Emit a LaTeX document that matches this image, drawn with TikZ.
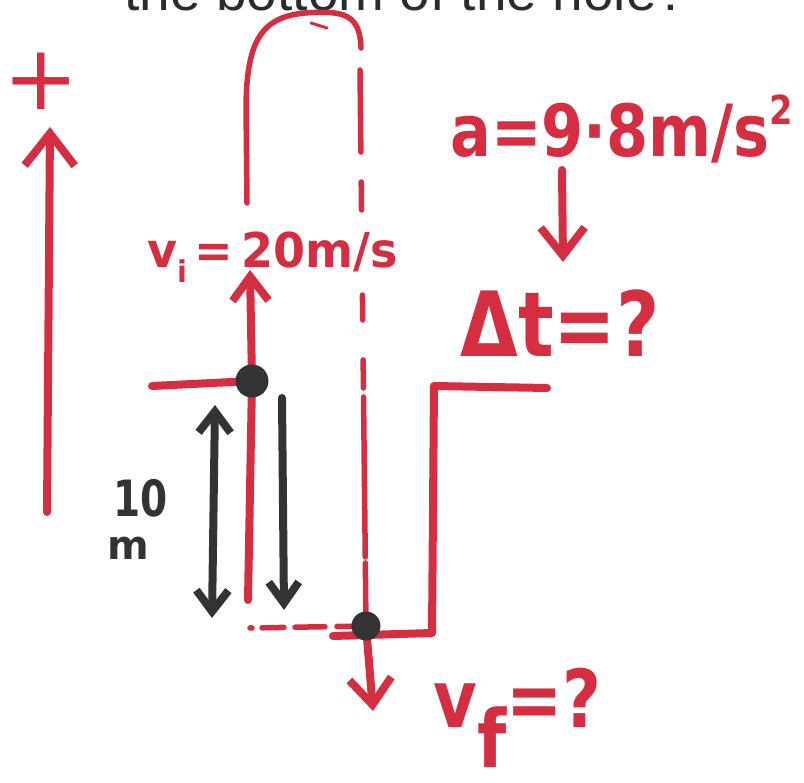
\documentclass[tikz,border=0pt]{standalone}
\usepackage{fontspec}
\usepackage{graphicx}
\setmainfont{DejaVu Sans}
\newfontfamily\printfont{Liberation Sans}
\usetikzlibrary{arrows.meta}
\definecolor{ink}{HTML}{D42E40}
\definecolor{pen}{HTML}{333333}
\definecolor{print}{HTML}{2B2B2B}

\begin{document}
\begin{tikzpicture}[x=1pt,y=-1pt,
  mk/.style={ink,line width=8pt,line cap=round,line join=round},
  fine/.style={ink,line width=5.5pt,line cap=round,line join=round},
  blk/.style={pen,line width=8pt,line cap=round,line join=round},
  ball/.style={circle,fill=pen,inner sep=0pt,minimum size=#1},
  lab/.style={inner sep=0pt,anchor=base west},
  hand/.style={lab,ink,font=\bfseries\fontsize{#1}{#1}\selectfont},
  barb/.style 2 args={-{Straight Barb[length=#1,width=#2]}},
  dbarb/.style 2 args={{Straight Barb[length=#1,width=#2]}-{Straight Barb[length=#1,width=#2]}}]
\useasboundingbox (0,0) rectangle (804,783);
\clip (0,0) rectangle (804,783);
% heading, cut at the top
\node[inner sep=0pt,anchor=base,text=print,font=\printfont\fontsize{55}{55}\selectfont] (title) at (406,11) {the bottom of the hole?};
% sign convention
\node[inner sep=0pt,ink,font=\fontsize{90}{90}\selectfont] (plus) at (41,81) {+};
\coordinate (ub) at (47,512);
\coordinate (ut) at (50,127);
\draw[mk,barb={32pt}{50pt}] (ub) -- (ut);
% points of the path
\coordinate (p1) at (252,381);
\coordinate (p2) at (366,626);
\coordinate (gl) at (152,386);
\coordinate (gr) at (547,388);
\coordinate (wt) at (434,386);
\coordinate (wb) at (432,633);
\coordinate (bl) at (333,636);
\coordinate (fall) at (248,600);
\coordinate (vi) at (250,270);
\coordinate (vf) at (373,711);
% ground and hole
\draw[mk] (gl) -- (p1);
\draw[mk] (gr) -- (wt) -- (wb) -- (bl);
% up, over and down
\draw[mk,barb={24pt}{36pt}] (p1) -- (vi);
\draw[mk] (p1) -- (fall);
\draw[fine] (247,203) -- (246,105) .. controls (247,40) and (262,17) .. (305,13)
  .. controls (345,10) and (360,15) .. (361,48);
\draw[ink,line width=3pt,line cap=round] (311,23) -- (327,28);
\draw[fine,dash pattern=on 82pt off 30pt on 28pt off 85pt on 25pt off 40pt on 28pt off 9pt on 160pt off 6pt on 63pt]
  (360,70) -- (p2);
\draw[fine,dash pattern=on 2pt off 10pt on 22pt off 11pt on 30pt off 12pt on 40pt] (250,628) -- (p2);
\draw[mk,barb={26pt}{42pt}] (p2) -- (vf);
\node[ball=33pt] (top) at (p1) {};
\node[ball=29pt] (bot) at (p2) {};
% height of the hole
\coordinate (h1) at (215,405);
\coordinate (h2) at (212,618);
\coordinate (d1) at (282,398);
\coordinate (d2) at (284,610);
\draw[blk,dbarb={21pt}{32pt}] (h1) -- (h2);
\draw[blk,barb={21pt}{30pt}] (d1) -- (d2);
\node[lab,pen,font=\bfseries\fontsize{50}{50}\selectfont] (ten) at (113,517) {\scalebox{0.78}[1]{10}};
\node[lab,pen,font=\bfseries\fontsize{40}{40}\selectfont] (unit) at (107,560) {m};
% given and wanted
\node[hand=48] (vinit) at (147,268) {\scalebox{0.96}[1]{v\raisebox{-0.3em}{\fontsize{30}{30}\selectfont i}\,=\,20m/s}};
\node[hand=72] (acc) at (450,157) {\scalebox{0.84}[1]{a=9·8m/s\raisebox{0.45em}{\fontsize{40}{40}\selectfont 2}}};
\coordinate (a1) at (562,170);
\coordinate (a2) at (563,262);
\draw[mk,barb={28pt}{44pt}] (a1) -- (a2);
\node[hand=90] (time) at (460,357) {\scalebox{0.83}[1]{Δt=?}};
\node[hand=80] (vfin) at (433,727) {\scalebox{0.84}[1]{v\raisebox{-0.5em}{f}=?}};
\end{tikzpicture}
\end{document}
